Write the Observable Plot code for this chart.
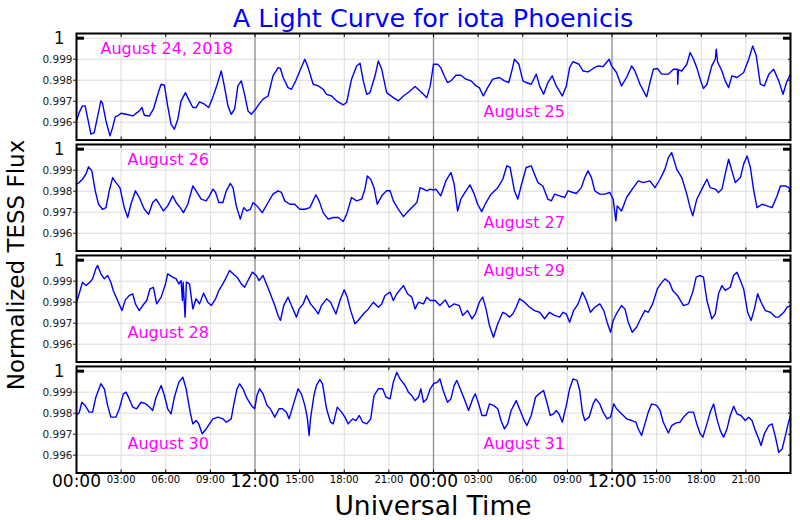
<!DOCTYPE html>
<html>
<head>
<meta charset="utf-8">
<script src="https://cdn.jsdelivr.net/npm/d3@7"></script>
<script src="https://cdn.jsdelivr.net/npm/@observablehq/plot@0.6"></script>
<style>
  body { margin: 0; background: #fff; font-family: "DejaVu Sans", sans-serif; }
  #wrap { position: relative; width: 800px; height: 520px; overflow: hidden; }
  #chart { position: absolute; left: 0; top: 0; }
  .lbl { position: absolute; white-space: nowrap; text-align: center; z-index: 2; }
  #title { left: 183px; width: 500px; top: 4px; line-height: 28px; font-size: 25.5px; color: #0000ff; }
  #xlabel { left: 183px; width: 500px; top: 493px; line-height: 26px; font-size: 26.5px; color: #000; }
  #ylabel { left: -134px; width: 300px; top: 251px; line-height: 28px; font-size: 23px; color: #000; transform: rotate(-90deg); }
</style>
</head>
<body>
<div id="wrap">
  <div id="chart"></div>
  <div class="lbl" id="title">A Light Curve for iota Phoenicis</div>
  <div class="lbl" id="xlabel">Universal Time</div>
  <div class="lbl" id="ylabel">Normalized TESS Flux</div>
</div>
<script>
// ---- data: [hours since start of panel, normalized flux] ----
const aug24_25 = [
[0,0.99606],[0.18,0.99646],[0.40,0.99678],[0.58,0.99678],[0.97,0.99543],[1.19,0.99551],[1.64,0.99702],[1.75,0.99690],[1.98,0.99606],[2.25,0.99535],[2.43,0.99575],[2.61,0.99627],[2.76,0.99630],[2.99,0.99643],[3.33,0.99638],[3.78,0.99630],[4.22,0.99654],[4.40,0.99670],[4.56,0.99633],[4.90,0.99630],[5.17,0.99662],[5.53,0.99749],[5.69,0.99781],[5.91,0.99776],[6.13,0.99678],[6.36,0.99590],[6.58,0.99567],[6.81,0.99614],[7.03,0.99702],[7.33,0.99741],[7.48,0.99717],[7.82,0.99670],[8.04,0.99670],[8.27,0.99697],[8.61,0.99686],[8.88,0.99670],[9.12,0.99710],[9.39,0.99765],[9.73,0.99844],[9.96,0.99765],[10.18,0.99678],[10.40,0.99638],[10.63,0.99662],[10.85,0.99773],[11.08,0.99797],[11.30,0.99733],[11.53,0.99654],[11.75,0.99638],[12.04,0.99662],[12.27,0.99686],[12.54,0.99710],[12.88,0.99725],[13.21,0.99821],[13.55,0.99860],[13.71,0.99856],[13.89,0.99813],[14.22,0.99765],[14.45,0.99757],[14.74,0.99797],[15.01,0.99844],[15.35,0.99900],[15.57,0.99860],[15.91,0.99781],[16.25,0.99773],[16.58,0.99757],[16.81,0.99733],[17.15,0.99725],[17.48,0.99702],[17.93,0.99683],[18.16,0.99694],[18.49,0.99805],[18.83,0.99868],[19.06,0.99881],[19.28,0.99797],[19.51,0.99733],[19.73,0.99741],[20.07,0.99821],[20.29,0.99892],[20.52,0.99852],[20.85,0.99741],[21.30,0.99717],[21.64,0.99702],[21.98,0.99725],[22.43,0.99749],[22.76,0.99770],[23.10,0.99749],[23.44,0.99725],[23.55,0.99717],[23.78,0.99773],[24.00,0.99876],
[24.27,0.99876],[24.49,0.99860],[24.72,0.99821],[24.94,0.99789],[25.17,0.99797],[25.51,0.99824],[25.84,0.99824],[26.18,0.99805],[26.52,0.99797],[26.86,0.99773],[27.08,0.99765],[27.35,0.99725],[27.64,0.99765],[27.98,0.99805],[28.43,0.99813],[28.77,0.99797],[29.06,0.99789],[29.29,0.99852],[29.44,0.99900],[29.74,0.99876],[30.01,0.99797],[30.23,0.99789],[30.57,0.99781],[30.91,0.99829],[31.13,0.99773],[31.40,0.99733],[31.69,0.99789],[31.98,0.99821],[32.25,0.99773],[32.66,0.99725],[32.93,0.99773],[33.15,0.99860],[33.38,0.99889],[33.78,0.99876],[34.05,0.99844],[34.39,0.99840],[34.73,0.99856],[35.07,0.99868],[35.40,0.99865],[35.81,0.99900],[35.97,0.99868],[36.30,0.99837],[36.64,0.99773],[36.98,0.99813],[37.32,0.99868],[37.54,0.99844],[37.88,0.99781],[38.33,0.99721],[38.55,0.99789],[38.78,0.99852],[39.05,0.99856],[39.34,0.99829],[39.79,0.99829],[40.13,0.99852],[40.40,0.99852],[40.42,0.99781],[40.46,0.99849],[40.69,0.99844],[41.03,0.99876],[41.25,0.99932],[41.48,0.99900],[41.70,0.99860],[41.93,0.99805],[42.15,0.99760],[42.38,0.99781],[42.71,0.99868],[42.94,0.99900],[43.01,0.99948],[43.10,0.99887],[43.39,0.99844],[43.61,0.99797],[43.84,0.99765],[44.06,0.99821],[44.40,0.99813],[44.85,0.99837],[45.19,0.99900],[45.46,0.99963],[45.70,0.99916],[45.97,0.99781],[46.24,0.99773],[46.54,0.99829],[46.87,0.99852],[47.21,0.99797],[47.50,0.99733],[47.73,0.99789],[48.00,0.99829]
];
const aug26_27 = [
[0,0.99833],[0.18,0.99841],[0.40,0.99857],[0.63,0.99881],[0.81,0.99916],[1.03,0.99897],[1.26,0.99802],[1.48,0.99738],[1.75,0.99714],[1.98,0.99722],[2.20,0.99802],[2.43,0.99865],[2.65,0.99841],[2.92,0.99817],[3.21,0.99722],[3.44,0.99675],[3.66,0.99738],[3.96,0.99802],[4.22,0.99770],[4.56,0.99714],[4.85,0.99690],[5.12,0.99746],[5.35,0.99762],[5.57,0.99738],[5.84,0.99706],[6.13,0.99730],[6.47,0.99778],[6.70,0.99746],[6.97,0.99722],[7.19,0.99698],[7.48,0.99738],[7.82,0.99825],[8.04,0.99802],[8.38,0.99762],[8.72,0.99754],[8.94,0.99778],[9.17,0.99810],[9.35,0.99794],[9.57,0.99746],[9.84,0.99746],[10.07,0.99802],[10.34,0.99837],[10.52,0.99817],[10.74,0.99730],[11.01,0.99667],[11.24,0.99722],[11.46,0.99706],[11.69,0.99714],[11.87,0.99746],[12.13,0.99730],[12.49,0.99698],[12.81,0.99738],[13.21,0.99786],[13.55,0.99802],[13.78,0.99794],[14.00,0.99754],[14.34,0.99738],[14.67,0.99738],[15.01,0.99714],[15.35,0.99714],[15.69,0.99722],[16.09,0.99783],[16.31,0.99754],[16.58,0.99698],[16.92,0.99667],[17.26,0.99675],[17.60,0.99675],[17.93,0.99656],[18.16,0.99690],[18.49,0.99770],[18.83,0.99754],[19.17,0.99762],[19.39,0.99810],[19.55,0.99873],[19.78,0.99857],[20.00,0.99817],[20.22,0.99738],[20.52,0.99778],[20.85,0.99802],[21.08,0.99802],[21.30,0.99754],[21.64,0.99714],[21.98,0.99679],[22.31,0.99706],[22.65,0.99730],[22.88,0.99746],[23.10,0.99817],[23.33,0.99810],[23.55,0.99802],[23.78,0.99810],[24.00,0.99805],
[24.16,0.99810],[24.49,0.99778],[24.83,0.99849],[25.17,0.99889],[25.39,0.99833],[25.62,0.99706],[25.84,0.99762],[26.18,0.99802],[26.45,0.99830],[26.74,0.99786],[26.97,0.99738],[27.24,0.99703],[27.53,0.99746],[27.87,0.99786],[28.32,0.99817],[28.66,0.99857],[28.93,0.99921],[29.15,0.99913],[29.44,0.99802],[29.67,0.99762],[29.89,0.99825],[30.23,0.99913],[30.57,0.99921],[30.79,0.99881],[31.02,0.99841],[31.35,0.99825],[31.69,0.99762],[31.92,0.99754],[32.14,0.99786],[32.48,0.99778],[32.82,0.99770],[33.04,0.99802],[33.38,0.99794],[33.60,0.99789],[33.94,0.99817],[34.17,0.99865],[34.39,0.99897],[34.62,0.99865],[34.84,0.99802],[35.18,0.99786],[35.52,0.99786],[35.85,0.99794],[36.08,0.99762],[36.26,0.99659],[36.35,0.99730],[36.64,0.99706],[36.98,0.99770],[37.43,0.99817],[37.77,0.99849],[38.10,0.99841],[38.55,0.99849],[38.89,0.99817],[39.23,0.99857],[39.56,0.99905],[39.79,0.99960],[40.01,0.99984],[40.35,0.99905],[40.69,0.99865],[41.03,0.99786],[41.25,0.99722],[41.43,0.99683],[41.70,0.99762],[42.04,0.99810],[42.38,0.99857],[42.60,0.99817],[42.94,0.99810],[43.16,0.99794],[43.39,0.99810],[43.61,0.99881],[43.84,0.99952],[44.06,0.99897],[44.29,0.99841],[44.63,0.99865],[44.85,0.99929],[45.08,0.99968],[45.30,0.99913],[45.53,0.99802],[45.75,0.99722],[46.09,0.99738],[46.42,0.99730],[46.76,0.99722],[47.10,0.99778],[47.32,0.99825],[47.66,0.99825],[47.89,0.99817],[48.00,0.99794]
];
const aug28_29 = [
[0,0.99800],[0.18,0.99840],[0.40,0.99895],[0.63,0.99879],[0.90,0.99895],[1.08,0.99911],[1.30,0.99959],[1.42,0.99975],[1.64,0.99935],[1.87,0.99911],[2.09,0.99927],[2.31,0.99895],[2.47,0.99856],[2.76,0.99808],[3.06,0.99760],[3.28,0.99811],[3.55,0.99832],[3.78,0.99840],[3.96,0.99792],[4.22,0.99760],[4.45,0.99784],[4.72,0.99808],[4.94,0.99863],[5.17,0.99871],[5.39,0.99792],[5.69,0.99824],[5.98,0.99887],[6.13,0.99935],[6.47,0.99919],[6.70,0.99911],[6.88,0.99887],[7.03,0.99903],[7.12,0.99808],[7.17,0.99895],[7.30,0.99729],[7.39,0.99895],[7.60,0.99887],[7.82,0.99768],[8.04,0.99816],[8.27,0.99792],[8.54,0.99843],[8.83,0.99800],[9.06,0.99784],[9.35,0.99816],[9.57,0.99856],[9.84,0.99887],[10.07,0.99919],[10.29,0.99951],[10.52,0.99935],[10.79,0.99919],[11.08,0.99887],[11.30,0.99871],[11.53,0.99903],[11.82,0.99943],[12.09,0.99927],[12.27,0.99903],[12.54,0.99927],[12.81,0.99879],[13.03,0.99840],[13.33,0.99784],[13.55,0.99737],[13.71,0.99713],[13.93,0.99784],[14.22,0.99824],[14.45,0.99784],[14.79,0.99729],[14.97,0.99768],[15.24,0.99792],[15.46,0.99832],[15.73,0.99792],[16.02,0.99768],[16.25,0.99744],[16.47,0.99784],[16.81,0.99816],[17.08,0.99800],[17.44,0.99744],[17.71,0.99808],[18.00,0.99859],[18.20,0.99824],[18.43,0.99760],[18.72,0.99697],[18.94,0.99713],[19.28,0.99744],[19.62,0.99768],[19.96,0.99800],[20.29,0.99776],[20.52,0.99792],[20.74,0.99832],[21.08,0.99848],[21.30,0.99808],[21.53,0.99840],[21.98,0.99879],[22.25,0.99840],[22.54,0.99824],[22.76,0.99768],[22.99,0.99800],[23.33,0.99792],[23.55,0.99824],[23.78,0.99808],
[24.11,0.99808],[24.43,0.99784],[24.79,0.99811],[25.06,0.99776],[25.39,0.99792],[25.73,0.99784],[25.96,0.99737],[26.29,0.99760],[26.59,0.99721],[26.81,0.99744],[27.08,0.99800],[27.31,0.99824],[27.53,0.99768],[27.76,0.99689],[28.03,0.99633],[28.32,0.99697],[28.66,0.99752],[28.88,0.99744],[29.11,0.99729],[29.33,0.99744],[29.56,0.99776],[29.78,0.99816],[30.12,0.99800],[30.46,0.99776],[30.79,0.99760],[31.13,0.99752],[31.47,0.99721],[31.80,0.99752],[32.14,0.99737],[32.48,0.99729],[32.70,0.99752],[32.93,0.99744],[33.15,0.99705],[33.42,0.99760],[33.72,0.99792],[34.01,0.99848],[34.28,0.99808],[34.55,0.99752],[34.84,0.99776],[35.18,0.99792],[35.45,0.99760],[35.67,0.99705],[35.90,0.99657],[36.08,0.99713],[36.35,0.99752],[36.64,0.99784],[36.87,0.99768],[37.09,0.99705],[37.36,0.99657],[37.65,0.99681],[37.92,0.99721],[38.21,0.99760],[38.44,0.99752],[38.73,0.99792],[39.05,0.99863],[39.27,0.99887],[39.56,0.99911],[39.86,0.99895],[40.08,0.99856],[40.40,0.99832],[40.80,0.99784],[41.14,0.99792],[41.43,0.99848],[41.66,0.99919],[41.93,0.99927],[42.15,0.99919],[42.38,0.99808],[42.71,0.99721],[42.94,0.99744],[43.16,0.99840],[43.39,0.99879],[43.61,0.99856],[43.95,0.99871],[44.17,0.99927],[44.40,0.99943],[44.63,0.99903],[44.85,0.99863],[45.12,0.99752],[45.35,0.99713],[45.57,0.99768],[45.79,0.99840],[46.02,0.99800],[46.31,0.99760],[46.65,0.99752],[46.99,0.99729],[47.21,0.99729],[47.55,0.99752],[47.77,0.99776],[48.00,0.99784]
];
const aug30_31 = [
[0,0.99792],[0.18,0.99802],[0.36,0.99852],[0.58,0.99837],[0.85,0.99805],[1.08,0.99805],[1.30,0.99876],[1.64,0.99940],[1.87,0.99916],[2.09,0.99837],[2.31,0.99781],[2.65,0.99781],[2.88,0.99821],[3.15,0.99892],[3.33,0.99900],[3.55,0.99868],[3.78,0.99829],[4.04,0.99821],[4.34,0.99852],[4.67,0.99844],[4.90,0.99829],[5.12,0.99813],[5.35,0.99876],[5.69,0.99932],[5.91,0.99884],[6.13,0.99821],[6.36,0.99797],[6.58,0.99876],[6.88,0.99948],[7.15,0.99971],[7.37,0.99916],[7.64,0.99805],[7.82,0.99749],[8.04,0.99765],[8.22,0.99749],[8.45,0.99702],[8.72,0.99725],[8.94,0.99749],[9.17,0.99773],[9.51,0.99781],[9.84,0.99773],[10.07,0.99757],[10.40,0.99773],[10.56,0.99837],[10.79,0.99916],[10.97,0.99940],[11.19,0.99916],[11.42,0.99876],[11.75,0.99837],[11.98,0.99821],[12.13,0.99884],[12.31,0.99916],[12.54,0.99892],[12.81,0.99837],[13.03,0.99821],[13.33,0.99781],[13.62,0.99821],[13.84,0.99821],[14.11,0.99805],[14.29,0.99773],[14.56,0.99837],[14.90,0.99916],[15.12,0.99892],[15.35,0.99837],[15.51,0.99781],[15.64,0.99694],[15.73,0.99773],[15.96,0.99884],[16.13,0.99932],[16.36,0.99960],[16.54,0.99940],[16.81,0.99821],[17.08,0.99757],[17.26,0.99749],[17.53,0.99829],[17.82,0.99805],[18.04,0.99781],[18.27,0.99749],[18.56,0.99773],[18.79,0.99765],[19.01,0.99789],[19.24,0.99757],[19.51,0.99749],[19.78,0.99773],[20.00,0.99884],[20.29,0.99916],[20.58,0.99916],[20.81,0.99876],[21.08,0.99868],[21.30,0.99948],[21.53,0.99995],[21.75,0.99963],[22.09,0.99932],[22.31,0.99900],[22.54,0.99884],[22.76,0.99860],[22.99,0.99876],[23.15,0.99916],[23.33,0.99852],[23.55,0.99868],[23.78,0.99916],[24.00,0.99940],
[24.27,0.99948],[24.43,0.99963],[24.65,0.99908],[24.94,0.99852],[25.17,0.99868],[25.39,0.99932],[25.57,0.99956],[25.84,0.99908],[26.07,0.99868],[26.36,0.99813],[26.63,0.99868],[26.81,0.99892],[27.04,0.99844],[27.26,0.99789],[27.53,0.99789],[27.76,0.99844],[28.03,0.99837],[28.32,0.99821],[28.54,0.99765],[28.77,0.99725],[28.99,0.99749],[29.22,0.99813],[29.56,0.99860],[29.78,0.99821],[30.05,0.99773],[30.28,0.99741],[30.57,0.99789],[30.86,0.99876],[31.09,0.99892],[31.40,0.99908],[31.62,0.99852],[31.85,0.99789],[32.07,0.99797],[32.25,0.99813],[32.43,0.99797],[32.66,0.99757],[32.93,0.99837],[33.15,0.99916],[33.38,0.99963],[33.65,0.99956],[33.83,0.99908],[34.01,0.99805],[34.17,0.99765],[34.46,0.99781],[34.73,0.99844],[34.91,0.99868],[35.18,0.99844],[35.40,0.99805],[35.67,0.99773],[35.90,0.99781],[36.12,0.99844],[36.30,0.99821],[36.64,0.99797],[36.98,0.99773],[37.32,0.99765],[37.61,0.99757],[37.77,0.99725],[37.99,0.99694],[38.21,0.99749],[38.44,0.99805],[38.66,0.99844],[39.00,0.99837],[39.23,0.99813],[39.45,0.99757],[39.79,0.99706],[40.01,0.99741],[40.31,0.99754],[40.58,0.99757],[40.80,0.99781],[41.14,0.99805],[41.48,0.99805],[41.70,0.99749],[41.93,0.99702],[42.11,0.99686],[42.38,0.99749],[42.60,0.99805],[42.83,0.99844],[43.05,0.99773],[43.28,0.99717],[43.50,0.99686],[43.73,0.99725],[43.95,0.99789],[44.18,0.99833],[44.40,0.99797],[44.67,0.99789],[44.96,0.99765],[45.19,0.99781],[45.41,0.99765],[45.64,0.99717],[45.86,0.99678],[46.02,0.99646],[46.24,0.99702],[46.54,0.99741],[46.76,0.99749],[46.99,0.99686],[47.21,0.99614],[47.44,0.99630],[47.66,0.99694],[47.84,0.99749],[48.00,0.99789]
];
const panelSeries = [aug24_25, aug26_27, aug28_29, aug30_31];
const dateLabels = [["August 24, 2018", "August 25"], ["August 26", "August 27"], ["August 28", "August 29"], ["August 30", "August 31"]];
const minorHours = [3, 6, 9, 15, 18, 21, 27, 30, 33, 39, 42, 45];
const majorHours = [0, 12, 24, 36];
const fluxTicks = [0.996, 0.997, 0.998, 0.999];
const topFluxTick = [1];

// ---- layout for the date annotations (hours, flux) ----
const labelPlacement = [
  [[1.61, 0.99951], [27.36, 0.99651]],
  [[3.43, 0.99951], [27.36, 0.99651]],
  [[3.43, 0.99656], [27.36, 0.99951]],
  [[3.43, 0.99656], [27.36, 0.99656]]
];

const rows = [];
panelSeries.forEach((s, i) => s.forEach(([h, v]) => rows.push({panel: i, h, v})));
const labels = [];
dateLabels.forEach((pair, i) => pair.forEach((t, j) => labels.push({panel: i, label: t, h: labelPlacement[i][j][0], v: labelPlacement[i][j][1]})));

const fmtHour = h => String(h % 24).padStart(2, "0") + ":00";
const allHours = d3.range(3, 48, 3);
const none = () => "";

const chart = Plot.plot({
  width: 800,
  height: 520,
  marginTop: 33,
  marginBottom: 47.5,
  marginLeft: 76,
  marginRight: 10,
  style: {fontFamily: "DejaVu Sans, sans-serif", background: "white"},
  x: {domain: [0, 48], label: null},
  y: {domain: [0.995153, 1.000224], label: null},
  fy: {domain: [0, 1, 2, 3], axis: null, paddingInner: 0.04, paddingOuter: 0, round: false, label: null},
  marks: [
    Plot.ruleX(allHours.filter(h => h % 12 !== 0), {stroke: "#dcdcdc", strokeWidth: 1}),
    Plot.ruleY(fluxTicks.concat(topFluxTick), {stroke: "#dcdcdc", strokeWidth: 1}),
    Plot.ruleX([12, 24, 36], {stroke: "#8a8a8a", strokeWidth: 1.3}),
    Plot.line(rows, {x: "h", y: "v", fy: "panel", stroke: "#0000ff", strokeWidth: 1.4}),
    Plot.text(labels, {x: "h", y: "v", fy: "panel", text: "label", textAnchor: "start", fill: "#ff00ff", fontSize: 16}),
    Plot.frame({stroke: "black", strokeWidth: 2}),
    // y ticks and labels
    Plot.axisY(fluxTicks, {anchor: "left", tickSize: 3, tickPadding: 1, fontSize: 10.5, tickFormat: d3.format(".3f"), color: "#222", label: null}),
    Plot.axisY(topFluxTick, {anchor: "left", tickSize: 0, tickPadding: 12, fontSize: 17, tickFormat: d => String(d), color: "#111", label: null}),
    Plot.axisY(topFluxTick, {anchor: "left", tickSize: 8, dx: 8, strokeWidth: 3, tickFormat: none, label: null}),
    Plot.axisY(topFluxTick, {anchor: "right", tickSize: 8, dx: -8, strokeWidth: 3, tickFormat: none, label: null}),
    Plot.axisY(fluxTicks, {anchor: "right", tickSize: 3, dx: -3, tickFormat: none, label: null}),
    // x ticks in every panel
    Plot.axisX(allHours, {anchor: "bottom", tickSize: 3, dy: -3, facetAnchor: null, tickFormat: none, label: null}),
    Plot.axisX(allHours, {anchor: "top", tickSize: 3, dy: 3, facetAnchor: null, tickFormat: none, label: null}),
    // x tick labels
    Plot.axisX(minorHours, {anchor: "bottom", tickSize: 0, tickPadding: 3, fontSize: 10, tickFormat: fmtHour, label: null}),
    Plot.axisX(majorHours, {anchor: "bottom", tickSize: 0, tickPadding: 1.5, fontSize: 17, tickFormat: fmtHour, label: null})
  ]
});
document.getElementById("chart").appendChild(chart);
</script>
</body>
</html>
